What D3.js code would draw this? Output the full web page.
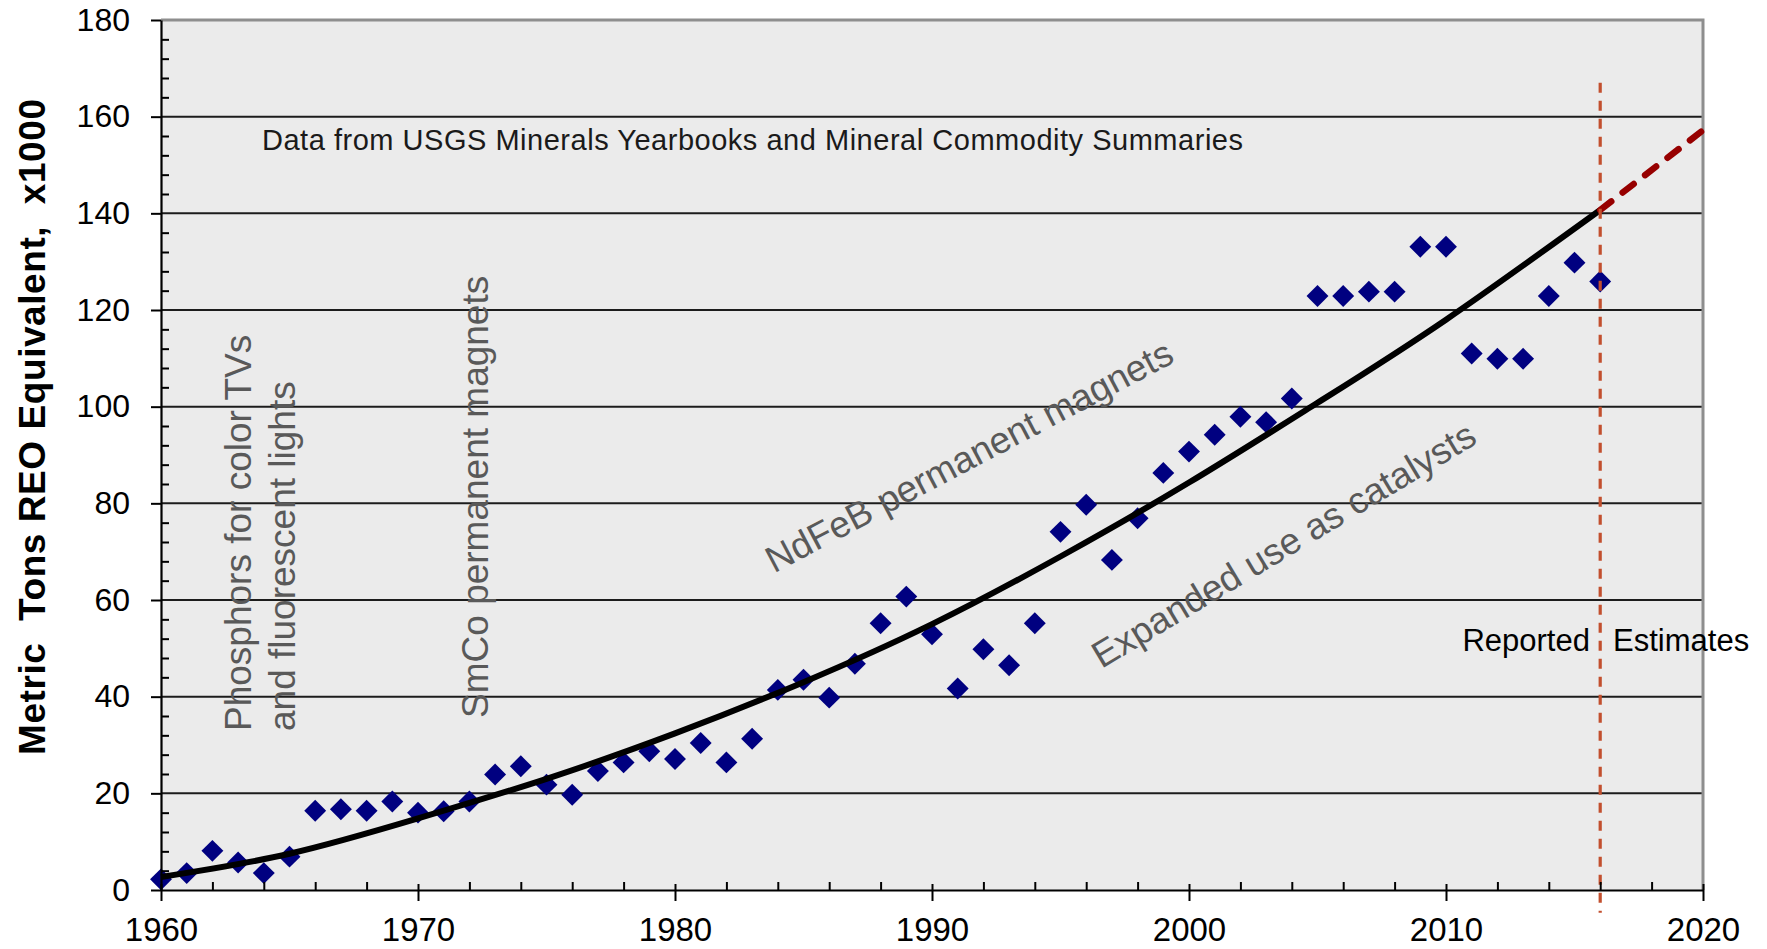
<!DOCTYPE html>
<html>
<head>
<meta charset="utf-8">
<script src="https://cdn.jsdelivr.net/npm/d3@7"></script>
<style>
  html, body { margin: 0; padding: 0; background: #ffffff; }
  svg { display: block; font-family: "Liberation Sans", Arial, Helvetica, sans-serif; }
</style>
</head>
<body>
<svg id="chart" width="1767" height="949"></svg>
<script>
// World rare-earth production, metric tons REO equivalent (x1000)
const years = [1960, 1961, 1962, 1963, 1964, 1965, 1966, 1967, 1968, 1969,
               1970, 1971, 1972, 1973, 1974, 1975, 1976, 1977, 1978, 1979,
               1980, 1981, 1982, 1983, 1984, 1985, 1986, 1987, 1988, 1989,
               1990, 1991, 1992, 1993, 1994, 1995, 1996, 1997, 1998, 1999,
               2000, 2001, 2002, 2003, 2004, 2005, 2006, 2007, 2008, 2009,
               2010, 2011, 2012, 2013, 2014, 2015, 2016];
const production = [2.2, 3.5, 8.1, 5.7, 3.5, 6.9, 16.4, 16.7, 16.4, 18.3,
                    16.0, 16.3, 18.3, 23.9, 25.6, 21.8, 19.7, 24.6, 26.4, 28.7,
                    27.1, 30.4, 26.4, 31.3, 41.4, 43.5, 39.8, 46.8, 55.2, 60.7,
                    52.9, 41.7, 49.8, 46.5, 55.2, 74.1, 79.7, 68.3, 76.9, 86.3,
                    90.7, 94.2, 97.9, 96.8, 101.7, 122.9, 122.9, 123.8, 123.8, 133.1,
                    133.1, 111.0, 109.9, 109.9, 122.9, 129.8, 125.9];

// Trend curve through the reported years, and its projection
const trendYears  = [1960, 1965, 1970, 1975, 1980, 1985, 1990, 1995, 2000, 2005, 2010, 2016];
const trendValues = [2.7, 7.5, 14.8, 23.0, 32.4, 43.0, 55.0, 69.0, 84.3, 100.8, 118.0, 140.7];
const projYears   = [2016, 2020];
const projValues  = [140.7, 157.2];

// Axis ticks
const xTicks      = [1960, 1970, 1980, 1990, 2000, 2010, 2020];
const xMinorTicks = [1962, 1964, 1966, 1968, 1972, 1974, 1976, 1978, 1982, 1984, 1986, 1988,
                     1992, 1994, 1996, 1998, 2002, 2004, 2006, 2008, 2012, 2014, 2016, 2018];
const yTicks      = [0, 20, 40, 60, 80, 100, 120, 140, 160, 180];
const yMinorTicks = [4, 8, 12, 16, 24, 28, 32, 36, 44, 48, 52, 56, 64, 68, 72, 76, 84, 88, 92, 96,
                     104, 108, 112, 116, 124, 128, 132, 136, 144, 148, 152, 156, 164, 168, 172, 176];

// Boundary between reported data and estimates
const lastReportedYear = 2016;
const dividerSpan = [-4.7, 167];

const svg = d3.select("#chart");
const x = d3.scaleLinear().domain([1960, 2020]).range([161, 1703]);
const y = d3.scaleLinear().domain([0, 180]).range([890, 20]);

const FONT = '"Liberation Sans", Arial, Helvetica, sans-serif';

// Plot background
svg.append("rect")
  .attr("x", x(1960)).attr("y", y(180))
  .attr("width", x(2020) - x(1960)).attr("height", y(0) - y(180))
  .attr("fill", "#ebebeb");

// Horizontal gridlines
svg.append("g").selectAll("line")
  .data(yTicks.filter(d => d > 0 && d < 180))
  .join("line")
  .attr("x1", x(1960)).attr("x2", x(2020))
  .attr("y1", d => y(d)).attr("y2", d => y(d))
  .attr("stroke", "#1c1c1c").attr("stroke-width", 2);

// Top and right frame
svg.append("path")
  .attr("d", `M${x(1960)},${y(180)}H${x(2020)}V${y(0)}`)
  .attr("fill", "none").attr("stroke", "#8e8e8e").attr("stroke-width", 3);

// Annotations
const ann = svg.append("g").attr("fill", "#595959").attr("font-size", 37);

function rotText(g, txt, yr, val, angle) {
  const px = x(yr), py = y(val);
  g.append("text")
    .attr("transform", `translate(${px},${py}) rotate(${angle})`)
    .attr("text-anchor", "start")
    .text(txt);
}
rotText(ann, "Phosphors for color TVs", 1963.49, 32.9, -90);
rotText(ann, "and fluorescent lights", 1965.23, 32.9, -90);
rotText(ann, "SmCo permanent magnets", 1972.72, 35.6, -90);
rotText(ann, "NdFeB permanent magnets", 1983.85, 65.5, -27.8);
rotText(ann, "Expanded use as catalysts", 1996.6, 45.7, -31);

svg.append("text")
  .attr("x", x(1963.93)).attr("y", y(153.1))
  .attr("font-size", 29).attr("fill", "#1a1a1a")
  .attr("textLength", 981).attr("lengthAdjust", "spacing")
  .text("Data from USGS Minerals Yearbooks and Mineral Commodity Summaries");

svg.append("text")
  .attr("x", x(2015.6)).attr("y", y(49.5))
  .attr("font-size", 31).attr("fill", "#000").attr("text-anchor", "end")
  .text("Reported");
svg.append("text")
  .attr("x", x(2016.5)).attr("y", y(49.5))
  .attr("font-size", 31).attr("fill", "#000").attr("text-anchor", "start")
  .text("Estimates");

// Production points
const points = years.map((yr, i) => ({ yr, v: production[i] }));
svg.append("g").selectAll("path")
  .data(points)
  .join("path")
  .attr("transform", d => `translate(${x(d.yr)},${y(d.v)}) rotate(45)`)
  .attr("d", d3.symbol(d3.symbolSquare, 240))
  .attr("fill", "#000080");

// Trend curve
const trend = trendYears.map((yr, i) => [yr, trendValues[i]]);
const smooth = d3.line().x(d => x(d[0])).y(d => y(d[1])).curve(d3.curveNatural);
svg.append("path")
  .attr("d", smooth(trend))
  .attr("fill", "none").attr("stroke", "#000").attr("stroke-width", 6)
  .attr("stroke-linejoin", "round");

// Projection
const proj = projYears.map((yr, i) => [yr, projValues[i]]);
const straight = d3.line().x(d => x(d[0])).y(d => y(d[1]));
svg.append("path")
  .attr("d", straight(proj))
  .attr("fill", "none").attr("stroke", "#970000").attr("stroke-width", 6.5)
  .attr("stroke-dasharray", "14,14.4").attr("stroke-linecap", "round");

// Reported / estimates divider
svg.append("line")
  .attr("x1", x(lastReportedYear)).attr("x2", x(lastReportedYear))
  .attr("y1", y(dividerSpan[1])).attr("y2", y(dividerSpan[0]))
  .attr("stroke", "#c24f2e").attr("stroke-width", 3.2)
  .attr("stroke-dasharray", "10,8");

// Y axis
const gy = svg.append("g").attr("transform", `translate(${x(1960)},0)`);
gy.call(d3.axisLeft(y).tickValues(yTicks).tickSizeInner(10).tickSizeOuter(0)
          .tickPadding(21).tickFormat(d3.format("d")));
gy.call(g => g.select(".domain").attr("stroke", "#000").attr("stroke-width", 2.2));
gy.selectAll(".tick line").attr("stroke", "#000").attr("stroke-width", 2);
gy.selectAll(".tick text").attr("font-size", 32).attr("font-family", FONT).attr("fill", "#000");

const gyMinor = svg.append("g").attr("transform", `translate(${x(1960)},0)`);
gyMinor.call(d3.axisLeft(y).tickValues(yMinorTicks).tickSize(-8).tickFormat(""));
gyMinor.select(".domain").remove();
gyMinor.selectAll(".tick line").attr("stroke", "#000").attr("stroke-width", 2);

// X axis
const gx = svg.append("g").attr("transform", `translate(0,${y(0)})`);
gx.call(d3.axisBottom(x).tickValues(xTicks).tickSizeInner(11).tickSizeOuter(0)
          .tickFormat(d3.format("d")));
gx.call(g => g.select(".domain").attr("stroke", "#000").attr("stroke-width", 2.2));
gx.selectAll(".tick line").attr("stroke", "#000").attr("stroke-width", 2);
gx.selectAll(".tick text").attr("y", 51).attr("dy", null)
  .attr("font-size", 33).attr("font-family", FONT).attr("fill", "#000");

const gxIn = svg.append("g").attr("transform", `translate(0,${y(0)})`);
gxIn.call(d3.axisBottom(x).tickValues(xTicks).tickSize(-6).tickFormat(""));
gxIn.select(".domain").remove();
gxIn.selectAll(".tick line").attr("stroke", "#000").attr("stroke-width", 2);

const gxMinor = svg.append("g").attr("transform", `translate(0,${y(0)})`);
gxMinor.call(d3.axisBottom(x).tickValues(xMinorTicks).tickSize(-8).tickFormat(""));
gxMinor.select(".domain").remove();
gxMinor.selectAll(".tick line").attr("stroke", "#000").attr("stroke-width", 2);

// Y axis title
svg.append("text")
  .attr("transform", `translate(45,427) rotate(-90)`)
  .attr("text-anchor", "middle")
  .attr("font-size", 37).attr("font-weight", "bold").attr("fill", "#000")
  .attr("textLength", 656).attr("lengthAdjust", "spacing")
  .style("white-space", "pre")
  .text("Metric  Tons REO Equivalent,  x1000");
</script>
</body>
</html>
